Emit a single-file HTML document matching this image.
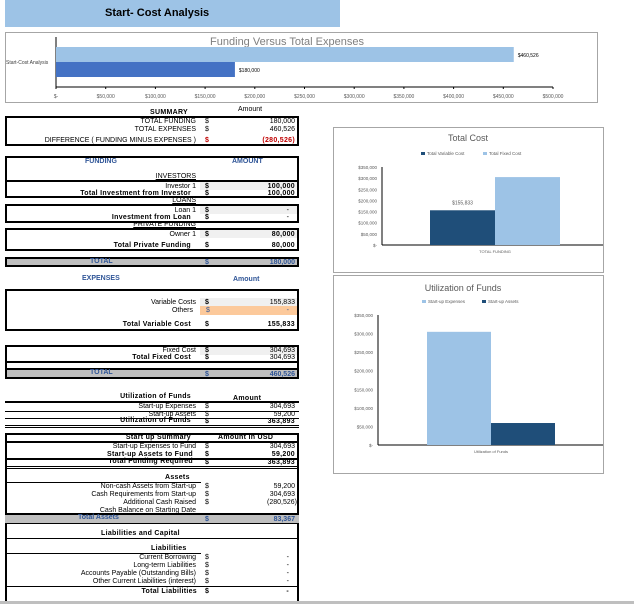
<!DOCTYPE html>
<html><head><meta charset="utf-8">
<style>
body{margin:0;width:634px;height:604px;background:#fff;position:relative;overflow:hidden;font-family:"Liberation Sans",sans-serif}
.t{position:absolute;font-size:7px;line-height:8px;white-space:nowrap;color:#000;transform:translateY(1px)}
.l{right:438px;text-align:right}
.d{left:205px}
.v{right:339px;text-align:right}
.b{font-weight:bold;letter-spacing:0.3px}
.bl{color:#2f5597;font-weight:bold}
.box{position:absolute;border:2px solid #000;box-sizing:border-box}
.hl{position:absolute;background:#000}
.bg{position:absolute}
</style></head><body>
<div style="position:absolute;left:5px;top:0;width:335px;height:27px;background:#9dc3e6"></div>
<div class="t" style="left:105px;top:6px;font-size:11px;line-height:12px;font-weight:bold">Start- Cost Analysis</div>

<svg id="topchart" style="position:absolute;left:0;top:0" width="634" height="110"></svg>

<!-- SUMMARY -->
<div class="t b" style="left:150px;top:108px">SUMMARY</div>
<div class="t" style="left:238px;top:105px">Amount</div>
<div class="box" style="left:5px;top:116px;width:294px;height:30px"></div>
<div class="t l" style="top:117px">TOTAL FUNDING</div>
<div class="t d" style="top:117px">$</div>
<div class="t v" style="top:117px">180,000</div>
<div class="t l" style="top:125px">TOTAL EXPENSES</div>
<div class="t d" style="top:125px">$</div>
<div class="t v" style="top:125px">460,526</div>
<div class="t l" style="top:136px">DIFFERENCE ( FUNDING MINUS EXPENSES )</div>
<div class="t d b" style="top:136px;color:#c00000">$</div>
<div class="t v b" style="top:136px;color:#c00000">(280,526)</div>

<!-- FUNDING -->
<div class="box" style="left:5px;top:156px;width:294px;height:42px"></div>
<div class="t bl" style="left:85px;top:157px">FUNDING</div>
<div class="t bl" style="left:232px;top:157px">AMOUNT</div>
<div class="t l" style="top:172px;text-decoration:underline">INVESTORS</div>
<div class="hl" style="left:5px;top:180px;width:294px;height:2px"></div>
<div class="bg" style="left:200px;top:182px;width:97px;height:8px;background:#f0f0f0"></div>
<div class="t l" style="top:182px">Investor 1</div>
<div class="t d b" style="top:182px">$</div>
<div class="t v b" style="top:182px">100,000</div>
<div class="t b" style="right:443px;top:189px">Total Investment from Investor</div>
<div class="t d b" style="top:189px">$</div>
<div class="t v b" style="top:189px">100,000</div>
<div class="t l" style="top:196px;text-decoration:underline">LOANS</div>
<div class="box" style="left:5px;top:204px;width:294px;height:19px"></div>
<div class="bg" style="left:200px;top:206px;width:97px;height:8px;background:#f0f0f0"></div>
<div class="t l" style="top:206px">Loan 1</div>
<div class="t d b" style="top:206px">$</div>
<div class="t v" style="top:206px;right:345px">-</div>
<div class="t b" style="right:443px;top:213px">Investment from Loan</div>
<div class="t d b" style="top:213px">$</div>
<div class="t v" style="top:213px;right:345px">-</div>
<div class="t l" style="top:220px;text-decoration:underline">PRIVATE FUNDING</div>
<div class="box" style="left:5px;top:228px;width:294px;height:23px"></div>
<div class="bg" style="left:200px;top:230px;width:97px;height:8px;background:#f0f0f0"></div>
<div class="t l" style="top:230px">Owner 1</div>
<div class="t d b" style="top:230px">$</div>
<div class="t v b" style="top:230px">80,000</div>
<div class="t b" style="right:443px;top:241px">Total Private Funding</div>
<div class="t d b" style="top:241px">$</div>
<div class="t v b" style="top:241px">80,000</div>
<div class="box" style="left:5px;top:257px;width:294px;height:10px;background:#bfbfbf"></div>
<div class="t bl" style="left:90px;top:257px">TOTAL</div>
<div class="t d bl" style="top:258px">$</div>
<div class="t v bl" style="top:258px">180,000</div>

<!-- EXPENSES -->
<div class="t bl" style="left:82px;top:274px">EXPENSES</div>
<div class="t bl" style="left:233px;top:275px">Amount</div>
<div class="box" style="left:5px;top:289px;width:294px;height:42px"></div>
<div class="bg" style="left:200px;top:298px;width:97px;height:8px;background:#f0f0f0"></div>
<div class="bg" style="left:200px;top:306px;width:97px;height:9px;background:#fcc99b"></div>
<div class="t l" style="top:298px">Variable Costs</div>
<div class="t d b" style="top:298px">$</div>
<div class="t v" style="top:298px">155,833</div>
<div class="t l" style="right:441px;top:306px">Others</div>
<div class="t" style="left:206px;top:306px;color:#2f5597">$</div>
<div class="t v" style="top:306px;right:345px;color:#2f5597">-</div>
<div class="t b" style="right:443px;top:320px">Total Variable Cost</div>
<div class="t d b" style="top:320px">$</div>
<div class="t v b" style="top:320px">155,833</div>

<div class="box" style="left:5px;top:345px;width:294px;height:34px"></div>
<div class="bg" style="left:200px;top:347px;width:97px;height:8px;background:#f0f0f0"></div>
<div class="t l" style="top:346px">Fixed Cost</div>
<div class="t d b" style="top:346px">$</div>
<div class="t v" style="top:346px">304,693</div>
<div class="t b" style="right:443px;top:353px">Total Fixed Cost</div>
<div class="t d b" style="top:353px">$</div>
<div class="t v" style="top:353px">304,693</div>
<div class="hl" style="left:5px;top:361px;width:294px;height:2px"></div>
<div class="hl" style="left:5px;top:368px;width:294px;height:2px"></div>
<div class="bg" style="left:7px;top:370px;width:290px;height:7px;background:#bfbfbf"></div>
<div class="t bl" style="left:90px;top:368px">TOTAL</div>
<div class="t d bl" style="top:370px">$</div>
<div class="t v bl" style="top:370px">460,526</div>

<!-- Utilization -->
<div class="t b" style="right:443px;top:392px">Utilization of Funds</div>
<div class="t b" style="left:233px;top:394px">Amount</div>
<div class="hl" style="left:5px;top:401px;width:294px;height:2px"></div>
<div class="t l" style="top:402px">Start-up Expenses</div>
<div class="t d" style="top:402px">$</div>
<div class="t v" style="top:402px">304,693</div>
<div class="hl" style="left:5px;top:411px;width:294px;height:1px"></div>
<div class="t l" style="top:410px">Start-up Assets</div>
<div class="t d" style="top:410px">$</div>
<div class="t v" style="top:410px">59,200</div>
<div class="hl" style="left:5px;top:418px;width:294px;height:1px"></div>
<div class="t b" style="right:443px;top:416px">Utilization of Funds</div>
<div class="t d b" style="top:417px">$</div>
<div class="t v b" style="top:417px">363,893</div>
<div class="hl" style="left:5px;top:425px;width:294px;height:1px"></div>
<div class="hl" style="left:5px;top:427px;width:294px;height:1px"></div>

<!-- Start up summary -->
<div class="box" style="left:5px;top:433px;width:294px;height:171px;border-bottom:none"></div>
<div class="t b" style="right:443px;top:433px">Start up Summary</div>
<div class="t b" style="left:218px;top:433px">Amount in USD</div>
<div class="hl" style="left:5px;top:441px;width:294px;height:2px"></div>
<div class="t l" style="top:442px">Start-up Expenses to Fund</div>
<div class="t d" style="top:442px">$</div>
<div class="t v" style="top:442px">304,693</div>
<div class="t b" style="right:441px;top:450px">Start-up Assets to Fund</div>
<div class="t d b" style="top:450px">$</div>
<div class="t v b" style="top:450px">59,200</div>
<div class="hl" style="left:5px;top:458px;width:294px;height:2px"></div>
<div class="t b" style="right:441px;top:457px">Total Funding Required</div>
<div class="t d b" style="top:458px">$</div>
<div class="t v b" style="top:458px">363,893</div>
<div class="hl" style="left:5px;top:466px;width:294px;height:1px"></div>
<div class="hl" style="left:5px;top:468px;width:294px;height:1px"></div>
<div class="t b" style="left:165px;top:473px">Assets</div>
<div class="hl" style="left:5px;top:482px;width:196px;height:1px"></div>
<div class="t l" style="top:482px">Non-cash Assets from Start-up</div>
<div class="t d" style="top:482px">$</div>
<div class="t v" style="top:482px">59,200</div>
<div class="t l" style="top:490px">Cash Requirements from Start-up</div>
<div class="t d" style="top:490px">$</div>
<div class="t v" style="top:490px">304,693</div>
<div class="t l" style="top:498px">Additional Cash Raised</div>
<div class="t d" style="top:498px">$</div>
<div class="t v" style="top:498px;right:337px">(280,526)</div>
<div class="t l" style="top:506px">Cash Balance on Starting Date</div>
<div class="hl" style="left:5px;top:513px;width:294px;height:2px"></div>
<div class="bg" style="left:5px;top:515px;width:294px;height:8px;background:#bfbfbf"></div>
<div class="t bl" style="left:78px;top:513px">Total Assets</div>
<div class="t d bl" style="top:515px">$</div>
<div class="t v bl" style="top:515px">83,367</div>
<div class="hl" style="left:5px;top:523px;width:294px;height:1px"></div>
<div class="t b" style="left:101px;top:529px">Liabilities and Capital</div>
<div class="hl" style="left:5px;top:538px;width:294px;height:1px"></div>
<div class="t b" style="left:151px;top:544px">Liabilities</div>
<div class="hl" style="left:5px;top:553px;width:196px;height:1px"></div>
<div class="t l" style="top:553px">Current Borrowing</div>
<div class="t d" style="top:553px">$</div>
<div class="t v" style="top:553px;right:345px">-</div>
<div class="t l" style="top:561px">Long-term Liabilities</div>
<div class="t d" style="top:561px">$</div>
<div class="t v" style="top:561px;right:345px">-</div>
<div class="t l" style="top:569px">Accounts Payable (Outstanding Bills)</div>
<div class="t d" style="top:569px">$</div>
<div class="t v" style="top:569px;right:345px">-</div>
<div class="t l" style="top:577px">Other Current Liabilities (interest)</div>
<div class="t d" style="top:577px">$</div>
<div class="t v" style="top:577px;right:345px">-</div>
<div class="hl" style="left:5px;top:586px;width:294px;height:1px"></div>
<div class="t b" style="right:437px;top:587px">Total Liabilities</div>
<div class="t d b" style="top:587px">$</div>
<div class="t v b" style="top:587px;right:345px">-</div>
<div class="bg" style="left:0;top:601px;width:634px;height:3px;background:#bfbfbf"></div>

<svg id="costchart" style="position:absolute;left:0;top:0" width="634" height="604"></svg>

<script>
// Top chart data
var topCats = ["Start-Cost Analysis"];
var topExpenses = [460526];
var topFunding = [180000];
var topTicks = [0,50000,100000,150000,200000,250000,300000,350000,400000,450000,500000];
var topTickLabels = ["$-","$50,000","$100,000","$150,000","$200,000","$250,000","$300,000","$350,000","$400,000","$450,000","$500,000"];
// Total cost chart
var costSeries = ["Total Variable Cost","Total Fixed Cost"];
var costValues = [155833,304693];
var costCat = ["TOTAL FUNDING"];
// Utilization chart
var utilSeries = ["Start-up Expenses","Start-up Assets"];
var utilValues = [304693,59200];
var utilCat = ["Utilization of Funds"];
var yTicks = [0,50000,100000,150000,200000,250000,300000,350000];
var yTickLabels = ["$-","$50,000","$100,000","$150,000","$200,000","$250,000","$300,000","$350,000"];

var NS="http://www.w3.org/2000/svg";
function mk(svg,tag,attrs,txt){var e=document.createElementNS(NS,tag);for(var k in attrs)e.setAttribute(k,attrs[k]);if(txt!==undefined)e.textContent=txt;svg.appendChild(e);return e;}
var FONT='"Liberation Sans",sans-serif';

// ---- top chart
var s1=document.getElementById('topchart');
var r=mk(s1,'rect',{x:5.5,y:32.5,width:592,height:70,fill:'#fff',stroke:'#a6a6a6'});


var tt=mk(s1,'text',{x:287,y:45,'font-size':11,fill:'#7f7f7f','text-anchor':'middle','font-family':FONT},'Funding Versus Total Expenses');


function tx(v){return 56+v/500000*(553-56);}
mk(s1,'line',{x1:56,y1:37,x2:56,y2:87,stroke:'#000'});
mk(s1,'line',{x1:56,y1:87,x2:553,y2:87,stroke:'#000'});
for(var i=0;i<topTicks.length;i++){
  mk(s1,'line',{x1:tx(topTicks[i]),y1:87,x2:tx(topTicks[i]),y2:89,stroke:'#000'});
  var tl=mk(s1,'text',{x:tx(topTicks[i]),y:98,'font-size':5,fill:'#595959','text-anchor':'middle','font-family':FONT},topTickLabels[i]);
  
  
}
var cl=mk(s1,'text',{x:6,y:64,'font-size':5,fill:'#404040','font-family':FONT},topCats[0]);


var b1=mk(s1,'rect',{x:tx(0),y:47,width:tx(topExpenses[0])-tx(0),height:15,fill:'#9dc3e6'});


var b2=mk(s1,'rect',{x:tx(0),y:62,width:tx(topFunding[0])-tx(0),height:15,fill:'#4472c4'});


var l1=mk(s1,'text',{x:tx(topExpenses[0])+4,y:57,'font-size':5,fill:'#000','font-family':FONT},'$'+topExpenses[0].toLocaleString('en-US'));


var l2=mk(s1,'text',{x:tx(topFunding[0])+4,y:72,'font-size':5,fill:'#000','font-family':FONT},'$'+topFunding[0].toLocaleString('en-US'));



// ---- vertical charts
var s2=document.getElementById('costchart');
function vchart(fx,fy,fw,fh,title,titleY,series,values,colors,legY,axX,y0,y350,b0,bw,cat,catY,showLabel,namePre){
  var fr=mk(s2,'rect',{x:fx+0.5,y:fy+0.5,width:fw,height:fh,fill:'#fff',stroke:'#a6a6a6'});
  
  
  var t=mk(s2,'text',{x:fx+fw/2+(namePre==='util'?-5:0),y:titleY,'font-size':9,fill:'#595959','text-anchor':'middle','font-family':FONT},title);
  
  
  function yy(v){return y0-v/350000*(y0-y350);}
  var lx=[legY[1],legY[2]];
  for(var i=0;i<series.length;i++){
    mk(s2,'rect',{x:lx[i],y:legY[0]-3,width:4,height:3,fill:colors[i]});
    var lt=mk(s2,'text',{x:lx[i]+6,y:legY[0],'font-size':4.5,fill:'#595959','font-family':FONT},series[i]);
    
    
  }
  for(var j=0;j<yTicks.length;j++){
    var yl=mk(s2,'text',{x:axX-5,y:yy(yTicks[j])+2,'font-size':4.5,fill:'#595959','text-anchor':'end','font-family':FONT},yTickLabels[j]);
    
    
  }
  mk(s2,'line',{x1:axX,y1:yy(350000),x2:axX,y2:y0,stroke:'#000'});
  mk(s2,'line',{x1:axX,y1:y0,x2:fx+fw,y2:y0,stroke:'#000'});
  for(var k=0;k<values.length;k++){
    var br=mk(s2,'rect',{x:b0+k*bw,y:yy(values[k]),width:bw,height:y0-yy(values[k]),fill:colors[k]});
    
    
  }
  if(showLabel){
    var dl=mk(s2,'text',{x:b0+bw/2,y:yy(values[0])-6,'font-size':5,fill:'#595959','text-anchor':'middle','font-family':FONT},'$'+values[0].toLocaleString('en-US'));
    
    
  }
  var ct=mk(s2,'text',{x:b0+bw,y:catY,'font-size':4,fill:'#595959','text-anchor':'middle','font-family':FONT},cat[0]);
  
  
}
vchart(333,127,270,145,'Total Cost',141,costSeries,costValues,['#1f4e79','#9dc3e6'],[155,421,483],382,245,167,430,65,costCat,253,true,'cost');
vchart(333,275,270,198,'Utilization of Funds',291,utilSeries,utilValues,['#9dc3e6','#1f4e79'],[303,422,482],378,445,315,427,64,utilCat,453,false,'util');
</script>
</body></html>
